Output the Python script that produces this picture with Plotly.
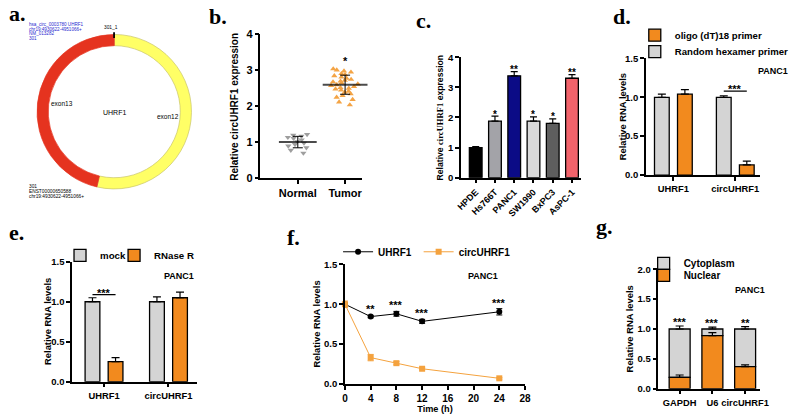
import plotly.graph_objects as go
import numpy as np

W, H = 800, 420
def px(x): return x / W
def py(y): return 1 - y / H

# ---------------- data ----------------
circ_segments = ["exon12", "exon13"]
circ_span = [193, 167]

normal_vals = [1.22, 1.20, 1.17, 1.14, 1.11, 1.07, 1.02, 0.98, 0.94, 0.90, 0.85, 0.78, 0.70]
tumor_vals = [3.04, 3.01, 2.98, 2.95, 2.91, 2.88, 2.85, 2.81, 2.78, 2.75, 2.72, 2.70, 2.68, 2.65,
              2.62, 2.60, 2.58, 2.55, 2.52, 2.50, 2.48, 2.45, 2.42, 2.39, 2.35, 2.30, 2.25, 2.19,
              2.12, 2.04]
tissue_groups = ["Normal", "Tumor"]

cell_lines = ["HPDE", "Hs766T", "PANC1", "SW1990", "BxPC3", "AsPC-1"]
cell_expr = [1.0, 1.88, 3.38, 1.88, 1.80, 3.30]
cell_err = [0.03, 0.16, 0.14, 0.14, 0.15, 0.12]
cell_sig = ["", "*", "**", "*", "*", "**"]
cell_colors = ["#000000", "#A3A3A8", "#0B0B86", "#D9D9D9", "#5E5E5E", "#F2636B"]

genes = ["UHRF1", "circUHRF1"]
random_hex = [1.0, 1.0]
random_hex_err = [0.04, 0.02]
oligo_dt = [1.04, 0.13]
oligo_dt_err = [0.06, 0.05]

mock = [1.0, 1.0]
mock_err = [0.05, 0.06]
rnase_r = [0.25, 1.05]
rnase_r_err = [0.05, 0.07]

time_h = [0, 4, 8, 12, 24]
uhrf1_t = [1.0, 0.845, 0.88, 0.785, 0.905]
uhrf1_t_err = [0.02, 0.015, 0.03, 0.025, 0.04]
circ_t = [1.0, 0.33, 0.26, 0.19, 0.07]
circ_t_err = [0.04, 0.04, 0.02, 0.012, 0.01]
time_sig = ["", "**", "***", "***", "***"]

frac_genes = ["GAPDH", "U6", "circUHRF1"]
nuclear = [0.19, 0.89, 0.37]
nuclear_err = [0.04, 0.05, 0.03]
cytoplasm = [0.81, 0.11, 0.63]
cytoplasm_err = [0.05, 0.03, 0.04]
frac_sig = ["***", "***", "**"]

# ---------------- style ----------------
GRAY = "#D4D4D4"
ORANGE = "#F28A1E"
SANS = "Liberation Sans, Arial, sans-serif"
SERIF = "Liberation Serif, Times New Roman, serif"

def bfont(size, color="black"):
    return dict(family=SANS, size=size, color=color, weight="bold")

axis_common = dict(showline=True, linecolor="black", linewidth=1.5, ticks="outside",
                   ticklen=4, tickwidth=1.5, tickcolor="black", showgrid=False,
                   zeroline=False, fixedrange=True)

fig = go.Figure()

# ---------------- a: circRNA ring ----------------
fig.add_trace(go.Pie(
    values=circ_span, labels=circ_segments, sort=False, direction="clockwise", rotation=0,
    hole=0.855, textinfo="none", showlegend=False, hoverinfo="label",
    marker=dict(colors=["#FFFF66", "#E5331F"], line=dict(color=["#C9C46A", "#E5331F"], width=0.7)),
    domain=dict(x=[px(31.7), px(190.7)], y=[py(188.3), py(29.3)])))

# ---------------- b: scatter ----------------
for grp, vals, sym, col in [("Normal", normal_vals, "triangle-down", "#9E9E9E"),
                            ("Tumor", tumor_vals, "triangle-up", "#F4A445")]:
    fig.add_trace(go.Box(
        x=[grp] * len(vals), y=vals, boxpoints="all", jitter=1, pointpos=0, width=0.62,
        fillcolor="rgba(0,0,0,0)", line=dict(width=0, color="rgba(0,0,0,0)"),
        marker=dict(symbol=sym, size=5.5, color=col), showlegend=False,
        hoverinfo="y", xaxis="x", yaxis="y"))
means = [float(np.mean(normal_vals)), float(np.mean(tumor_vals))]
sds = [float(np.std(normal_vals)), float(np.std(tumor_vals))]
fig.add_trace(go.Scatter(
    x=tissue_groups, y=means, mode="markers",
    marker=dict(symbol="line-ew", size=[27, 32], line=dict(color="black", width=2)),
    error_y=dict(type="data", array=sds, color="black", thickness=1, width=5),
    showlegend=False, xaxis="x", yaxis="y", cliponaxis=False))

# ---------------- c: cell line bars ----------------
fig.add_trace(go.Bar(
    x=cell_lines, y=cell_expr, width=0.66, marker=dict(color=cell_colors, line=dict(color="black", width=1.3)),
    error_y=dict(type="data", array=cell_err, arrayminus=[0] * len(cell_err), symmetric=False,
                 color="black", thickness=1.2, width=3.5),
    showlegend=False, xaxis="x2", yaxis="y2"))

# ---------------- d: primers ----------------
bw_d = 0.238
fig.add_trace(go.Bar(
    x=genes, y=random_hex, width=bw_d, offset=-0.186 - bw_d / 2, name="Random hexamer primer",
    marker=dict(color=GRAY, line=dict(color="black", width=1.3)),
    error_y=dict(type="data", array=random_hex_err, arrayminus=[0, 0], symmetric=False,
                 color="black", thickness=1.2, width=4),
    xaxis="x3", yaxis="y3", legend="legend2"))
fig.add_trace(go.Bar(
    x=genes, y=oligo_dt, width=bw_d, offset=0.186 - bw_d / 2, name="oligo (dT)18 primer",
    marker=dict(color=ORANGE, line=dict(color="black", width=1.3)),
    error_y=dict(type="data", array=oligo_dt_err, arrayminus=[0, 0], symmetric=False,
                 color="black", thickness=1.2, width=4),
    xaxis="x3", yaxis="y3", legend="legend"))

# ---------------- e: RNase R ----------------
bw_e = 0.229
fig.add_trace(go.Bar(
    x=genes, y=mock, width=bw_e, offset=-0.179 - bw_e / 2, name="mock",
    marker=dict(color=GRAY, line=dict(color="black", width=1.3)),
    error_y=dict(type="data", array=mock_err, arrayminus=[0, 0], symmetric=False,
                 color="black", thickness=1.2, width=4),
    xaxis="x4", yaxis="y4", legend="legend3"))
fig.add_trace(go.Bar(
    x=genes, y=rnase_r, width=bw_e, offset=0.179 - bw_e / 2, name="RNase R",
    marker=dict(color=ORANGE, line=dict(color="black", width=1.3)),
    error_y=dict(type="data", array=rnase_r_err, arrayminus=[0, 0], symmetric=False,
                 color="black", thickness=1.2, width=4),
    xaxis="x4", yaxis="y4", legend="legend4"))

# ---------------- f: time course ----------------
fig.add_trace(go.Scatter(
    x=time_h, y=uhrf1_t, mode="lines+markers", name="UHRF1",
    line=dict(color="black", width=1), marker=dict(symbol="circle", size=6, color="black"),
    error_y=dict(type="data", array=uhrf1_t_err, color="black", thickness=1, width=3),
    cliponaxis=False, xaxis="x5", yaxis="y5", legend="legend5"))
fig.add_trace(go.Scatter(
    x=time_h, y=circ_t, mode="lines+markers", name="circUHRF1",
    line=dict(color="#F4A23E", width=1), marker=dict(symbol="square", size=6, color="#F4A23E"),
    error_y=dict(type="data", array=circ_t_err, color="#F4A23E", thickness=1, width=3),
    cliponaxis=False, xaxis="x5", yaxis="y5", legend="legend6"))

# ---------------- g: fractionation ----------------
fig.add_trace(go.Bar(
    x=frac_genes, y=cytoplasm, base=nuclear, width=0.64, name="Cytoplasm",
    marker=dict(color=GRAY, line=dict(color="black", width=1.3)),
    error_y=dict(type="data", array=cytoplasm_err, arrayminus=[0, 0, 0], symmetric=False,
                 color="black", thickness=1.2, width=4),
    xaxis="x6", yaxis="y6", legend="legend7"))
fig.add_trace(go.Bar(
    x=frac_genes, y=nuclear, width=0.64, name="Nuclear",
    marker=dict(color=ORANGE, line=dict(color="black", width=1.3)),
    error_y=dict(type="data", array=nuclear_err, arrayminus=[0, 0, 0], symmetric=False,
                 color="black", thickness=1.2, width=4),
    xaxis="x6", yaxis="y6", legend="legend8"))

# ---------------- annotations ----------------
ann = []
def txt(x, y, s, size, xanchor="center", yanchor="middle", color="black", family=SANS, weight="normal", **kw):
    ann.append(dict(x=px(x), y=py(y), xref="paper", yref="paper", text=s, showarrow=False,
                    xanchor=xanchor, yanchor=yanchor,
                    font=dict(family=family, size=size, color=color, weight=weight), **kw))

# panel letters
for lab, x, y in [("a.", 2, 8), ("b.", 206, 11), ("c.", 416, 14.5), ("d.", 617, 10.5),
                  ("e.", 2, 233), ("f.", 285, 238), ("g.", 599, 226.5)]:
    txt(x, y, lab, 22, xanchor="left", family=SERIF, weight="bold")

# y-axis titles (rotated)
for x, y, s, size in [(233.5, 103.3, "Relative circUHRF1 expression", 10),
                      (442.7, 114.7, "Relative <span style='font-family:Liberation Serif'>circUHRF1</span> expression", 8.6),
                      (628.5, 114, "Relative RNA levels", 9.4),
                      (43, 325, "Relative RNA levels", 9.4),
                      (317, 327.5, "Relative RNA levels", 9.4),
                      (635.5, 332.5, "Relative RNA levels", 9.4)]:
    txt(x, y, s, size, weight="bold", textangle=-90)

# panel a texts
for i, s in enumerate(["hsa_circ_0003780 UHRF1", "chr19:4930622-4951066+", "NM_013282", "301"]):
    txt(22, 19.5 + i * 4.6, s, 4.6, xanchor="left", color="#2B2BD0")
for i, s in enumerate(["301", "ENST00000650588", "chr19:4930622-4951066+"]):
    txt(22, 186 + i * 4.8, s, 4.8, xanchor="left")
txt(108, 22, "301_1", 4.8)
txt(58, 100, "exon13", 6.5)
txt(111, 109.5, "UHRF1", 7)
txt(166, 114, "exon12", 6.5)

# b star
ann.append(dict(x="Tumor", y=max(tumor_vals) + 0.1, xref="x", yref="y", text="*", showarrow=False,
                yanchor="middle", yshift=4, font=bfont(11)))
# c stars
for cl, v, e, s in zip(cell_lines, cell_expr, cell_err, cell_sig):
    if s:
        ann.append(dict(x=cl, y=v + e, xref="x2", yref="y2", text=s, showarrow=False,
                        yanchor="middle", yshift=2, font=bfont(10)))
# d significance
ann.append(dict(x=1, y=1.08, xref="x3", yref="y3", text="***", showarrow=False,
                yanchor="middle", yshift=2, font=bfont(11)))
txt(799, 67, "PANC1", 9, xanchor="right", weight="bold")
# e significance
ann.append(dict(x=0, y=1.09, xref="x4", yref="y4", text="***", showarrow=False,
                yanchor="middle", yshift=2, font=bfont(11)))
txt(177.5, 278, "PANC1", 9, weight="bold")
# f stars
for t, v, e, s in zip(time_h, uhrf1_t, uhrf1_t_err, time_sig):
    if s:
        ann.append(dict(x=t, y=v + e, xref="x5", yref="y5", text=s, showarrow=False,
                        yanchor="middle", yshift=6, font=bfont(11)))
txt(486.5, 278, "PANC1", 9, weight="bold")
# g stars
for gname, n, c, e, s in zip(frac_genes, nuclear, cytoplasm, cytoplasm_err, frac_sig):
    ann.append(dict(x=gname, y=n + c + e, xref="x6", yref="y6", text=s, showarrow=False,
                    yanchor="middle", yshift=4, font=bfont(11)))
txt(758.5, 292, "PANC1", 9, weight="bold")

shapes = [
    dict(type="line", xref="paper", yref="paper", x0=px(111), x1=px(111), y0=py(27), y1=py(33),
         line=dict(color="black", width=1.8)),
    dict(type="line", xref="x3", yref="y3", x0=1 - 0.186, x1=1 + 0.186, y0=1.08, y1=1.08,
         line=dict(color="black", width=1.3)),
    dict(type="line", xref="x4", yref="y4", x0=-0.179, x1=0.179, y0=1.09, y1=1.09,
         line=dict(color="black", width=1.3)),
]

def leg(x, y, size):
    return dict(x=px(x), y=py(y), xanchor="left", yanchor="middle", orientation="v",
                bgcolor="rgba(0,0,0,0)", borderwidth=0, font=bfont(size))

fig.update_layout(
    width=W, height=H, margin=dict(l=0, r=0, t=0, b=0), autosize=False,
    paper_bgcolor="white", plot_bgcolor="white", barmode="overlay", boxmode="overlay",
    font=dict(family=SANS, color="black"),
    showlegend=True,
    xaxis=dict(axis_common, domain=[px(260), px(363)], type="category", range=[-0.79, 1.35],
               tickfont=bfont(11), anchor="y"),
    yaxis=dict(axis_common, domain=[py(177.3), py(29.3)], range=[0, 4], dtick=1,
               tickfont=bfont(11), anchor="x"),
    xaxis2=dict(axis_common, domain=[px(464), px(586.7)], type="category", range=[-0.77, 5.49],
                tickangle=-45, tickfont=bfont(9), anchor="y2"),
    yaxis2=dict(axis_common, domain=[py(176.7), py(52.7)], range=[0, 4], dtick=1,
                tickfont=bfont(9.5), anchor="x2"),
    xaxis3=dict(axis_common, domain=[px(652.3), px(768.3)], type="category", range=[-0.444, 1.397],
                tickangle=0, tickfont=bfont(9.4), anchor="y3"),
    yaxis3=dict(axis_common, domain=[py(174), py(54)], range=[0, 1.5], dtick=0.5, tickformat=".1f",
                tickfont=bfont(9.5), anchor="x3"),
    xaxis4=dict(axis_common, domain=[px(68.3), px(195)], type="category", range=[-0.495, 1.436],
                tickangle=0, tickfont=bfont(9.4), anchor="y4"),
    yaxis4=dict(axis_common, domain=[py(386.7), py(263.3)], range=[0, 1.5], dtick=0.5, tickformat=".1f",
                tickfont=bfont(9.5), anchor="x4"),
    xaxis5=dict(axis_common, domain=[px(346), px(529.3)], range=[0, 28], dtick=4, tickangle=0,
                tickfont=bfont(10), title=dict(text="Time (h)", font=bfont(9.2), standoff=2), anchor="y5"),
    yaxis5=dict(axis_common, domain=[py(389), py(266)], range=[0, 1.5], dtick=0.5, tickformat=".1f",
                tickfont=bfont(9.5), anchor="x5"),
    xaxis6=dict(axis_common, domain=[px(665), px(768.3)], type="category", range=[-0.65, 2.45],
                tickangle=0, tickfont=bfont(9.3), anchor="y6"),
    yaxis6=dict(axis_common, domain=[py(394), py(271)], range=[0, 2.0], dtick=0.5, tickformat=".1f",
                tickfont=bfont(9.5), anchor="x6"),
    legend=leg(641, 30, 9.6), legend2=leg(641, 47, 9.6),
    legend3=leg(56, 256.7, 9.7), legend4=leg(111, 256.7, 9.7),
    legend5=leg(339, 253, 10), legend6=leg(421, 253, 10),
    legend7=leg(650, 265, 10), legend8=leg(650, 277.3, 10),
    annotations=ann, shapes=shapes,
)

fig.write_html("out.html", config={"displayModeBar": False},
               post_script="document.body.style.margin='0';document.body.style.overflow='hidden';")
